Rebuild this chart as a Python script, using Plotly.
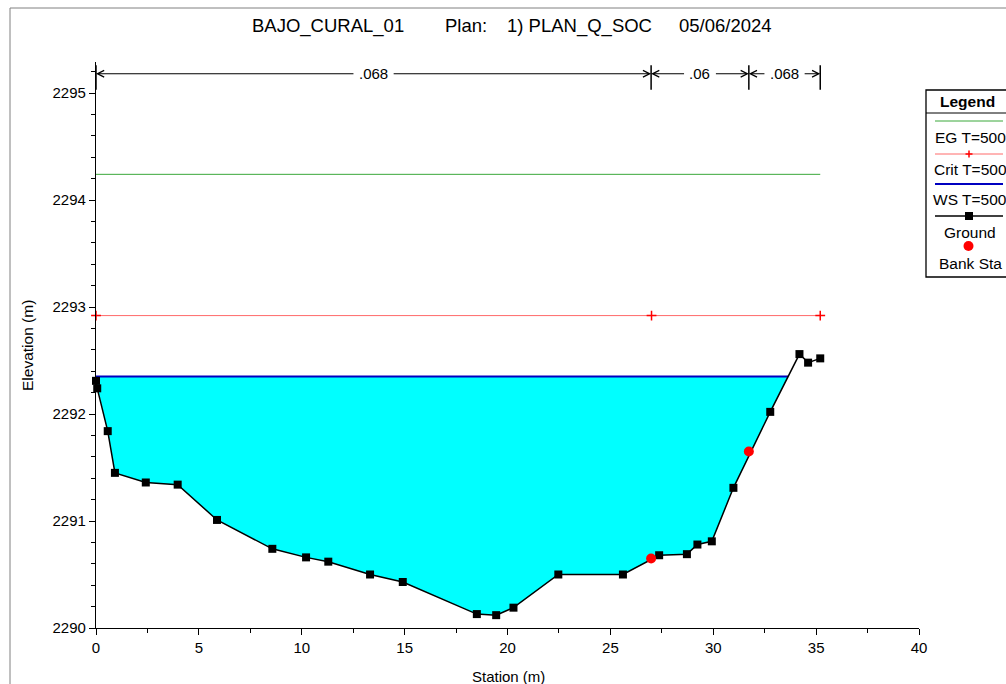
import plotly.graph_objects as go
import numpy as np

# ---------------- data ----------------
station = [0.0, 0.06, 0.57, 0.92, 2.42, 3.97, 5.88, 8.57, 10.21, 11.29, 13.32, 14.91,
           18.51, 19.45, 20.29, 22.47, 25.61, 27.37, 28.72, 29.23, 29.93, 30.98,
           32.77, 34.19, 34.61, 35.20]
elevation = [2292.31, 2292.24, 2291.84, 2291.45, 2291.36, 2291.34, 2291.01, 2290.74,
             2290.66, 2290.62, 2290.50, 2290.43, 2290.13, 2290.12, 2290.19, 2290.50,
             2290.50, 2290.68, 2290.69, 2290.78, 2290.81, 2291.31, 2292.02, 2292.56,
             2292.48, 2292.52]
bank_sta = [26.98, 31.73]
bank_elev = [2290.65, 2291.65]
ws_elev = 2292.35
eg_elev = 2294.24
crit_elev = 2292.92
crit_sta = [0.0, 27.0, 35.2]
n_breaks = [0.0, 26.98, 31.73, 35.2]
n_values = [".068", ".06", ".068"]
n_level = 2295.18
title_parts = ["BAJO_CURAL_01", "Plan:", "1) PLAN_Q_SOC", "05/06/2024"]
x_ticks = [0, 5, 10, 15, 20, 25, 30, 35, 40]
y_ticks = [2290, 2291, 2292, 2293, 2294, 2295]

FONT = "Liberation Sans, Arial, sans-serif"

# pixel -> paper helpers (plot area: x 96..919, y 62..628)
L, R, T, B = 96, 919, 62, 628
def PX(p):
    return (p - L) / (R - L)
def PY(p):
    return (B - p) / (B - T)

# water-surface intersection with right bank
xs = np.array(station)
ys = np.array(elevation)
k = int(np.argmax((xs > 30) & (ys > ws_elev)))
x_int = xs[k - 1] + (ws_elev - ys[k - 1]) * (xs[k] - xs[k - 1]) / (ys[k] - ys[k - 1])

poly_x = [0.0, x_int] + list(xs[:k][::-1]) + [0.0]
poly_y = [ws_elev, ws_elev] + list(ys[:k][::-1]) + [ws_elev]

fig = go.Figure()
fig.add_trace(go.Scatter(x=poly_x, y=poly_y, mode="lines", fill="toself",
                         fillcolor="#00ffff", line=dict(width=0), hoverinfo="skip",
                         showlegend=False))
fig.add_trace(go.Scatter(x=[station[0], station[-1]], y=[eg_elev, eg_elev], mode="lines",
                         line=dict(color="#3aa83a", width=1), showlegend=False))
fig.add_trace(go.Scatter(x=crit_sta, y=[crit_elev] * len(crit_sta), mode="lines+markers",
                         line=dict(color="#ff6a6a", width=1),
                         marker=dict(symbol="cross-thin", size=7,
                                     line=dict(color="#ff0000", width=1.5)),
                         cliponaxis=False, showlegend=False))
fig.add_trace(go.Scatter(x=[0.0, x_int], y=[ws_elev, ws_elev], mode="lines",
                         line=dict(color="#0000c0", width=2), showlegend=False))
fig.add_trace(go.Scatter(x=station, y=elevation, mode="lines+markers",
                         line=dict(color="black", width=1.5),
                         marker=dict(symbol="square", size=8, color="black"),
                         cliponaxis=False, showlegend=False))
fig.add_trace(go.Scatter(x=bank_sta, y=bank_elev, mode="markers",
                         marker=dict(symbol="circle", size=10, color="#ff0000"),
                         cliponaxis=False, showlegend=False))

shapes = []
annotations = []

def text_ann(x, y, txt, size=15, xanchor="center", **kw):
    d = dict(x=x, y=y, xref="paper", yref="paper", text=txt, showarrow=False,
             xanchor=xanchor, yanchor="middle",
             font=dict(family=FONT, size=size, color="black"))
    d.update(kw)
    annotations.append(d)

# Manning's n bars
for xb in n_breaks:
    shapes.append(dict(type="line", xref="x", yref="y", x0=xb, x1=xb,
                       y0=2295.03, y1=2295.26, line=dict(color="black", width=1.5)))
for i, lab in enumerate(n_values):
    a, b = n_breaks[i], n_breaks[i + 1]
    m = (a + b) / 2
    half_px = 0.5 * 15 * (0.278 + 0.556 * (len(lab) - 1)) + 4
    gap = half_px / ((R - L) / 40)
    annotations.append(dict(x=m, y=n_level, xref="x", yref="y", text=lab, showarrow=False,
                            xanchor="center", yanchor="middle",
                            font=dict(family=FONT, size=15, color="black")))
    for tgt, tail in ((a, m - gap), (b, m + gap)):
        annotations.append(dict(x=tgt, y=n_level, ax=tail, ay=n_level, xref="x", yref="y",
                                axref="x", ayref="y", text="", showarrow=True,
                                arrowhead=5, arrowsize=1.1, arrowwidth=1.2,
                                arrowcolor="black", standoff=0, startstandoff=0))

# title
for txt, px0 in zip(title_parts, [250, 443, 505, 677]):
    text_ann(PX(px0), PY(26), txt, size=18.5, xanchor="left")

# axis titles
text_ann(PX(27), PY(346), "Elevation (m)", size=15.5, textangle=-90)
text_ann(PX(508), PY(676), "Station (m)", size=15)

# outer frame
shapes.append(dict(type="line", xref="paper", yref="paper", x0=PX(10), x1=PX(10),
                   y0=PY(8), y1=PY(700), line=dict(color="#808080", width=1)))
shapes.append(dict(type="line", xref="paper", yref="paper", x0=PX(10), x1=PX(1020),
                   y0=PY(8), y1=PY(8), line=dict(color="#808080", width=1)))

# legend box
shapes.append(dict(type="rect", xref="paper", yref="paper", x0=PX(926), x1=PX(1030),
                   y0=PY(277), y1=PY(90), line=dict(color="black", width=1.3),
                   fillcolor="white", layer="above"))
shapes.append(dict(type="line", xref="paper", yref="paper", x0=PX(926), x1=PX(1030),
                   y0=PY(113), y1=PY(113), line=dict(color="black", width=1)))
text_ann(PX(968), PY(101.5), "<b>Legend</b>", size=15.5)
leg = [("EG T=500", "#3aa83a", 1, 121, 138),
       ("Crit T=500", "#ff6a6a", 1, 154, 169),
       ("WS T=500", "#0000c0", 2, 184, 200),
       ("Ground", "black", 1.5, 216, 232)]
for txt, col, w, yl, yt in leg:
    shapes.append(dict(type="line", xref="paper", yref="paper", x0=PX(935), x1=PX(1003),
                       y0=PY(yl), y1=PY(yl), line=dict(color=col, width=w)))
    text_ann(PX(970), PY(yt), txt, size=15.5)
# crit plus
shapes.append(dict(type="line", xref="paper", yref="paper", x0=PX(969), x1=PX(969),
                   y0=PY(150.5), y1=PY(157.5), line=dict(color="#ff0000", width=1.5)))
shapes.append(dict(type="line", xref="paper", yref="paper", x0=PX(965.5), x1=PX(972.5),
                   y0=PY(154), y1=PY(154), line=dict(color="#ff0000", width=1.5)))
# ground square
shapes.append(dict(type="rect", xref="paper", yref="paper", x0=PX(965), x1=PX(973),
                   y0=PY(220), y1=PY(212), line=dict(width=0), fillcolor="black"))
# bank circle
shapes.append(dict(type="circle", xref="paper", yref="paper", x0=PX(963.5), x1=PX(973.5),
                   y0=PY(251), y1=PY(241), line=dict(width=0), fillcolor="#ff0000"))
text_ann(PX(970), PY(263), "Bank Sta", size=15.5)

fig.update_layout(
    width=1006, height=684,
    margin=dict(l=L, r=1006 - R, t=T, b=684 - B, pad=0),
    paper_bgcolor="white", plot_bgcolor="white",
    showlegend=False,
    font=dict(family=FONT, size=15, color="black"),
    shapes=shapes, annotations=annotations,
    xaxis=dict(range=[0, 40], tickvals=x_ticks, showgrid=False, zeroline=False,
               showline=True, linecolor="black", linewidth=1.2,
               ticks="outside", ticklen=6, tickcolor="black", tickwidth=1.2,
               minor=dict(dtick=2.5, tick0=0, ticks="outside", ticklen=4,
                          tickcolor="black", tickwidth=1),
               tickfont=dict(family=FONT, size=15)),
    yaxis=dict(range=[2290, 2295.29], tickvals=y_ticks, showgrid=False, zeroline=False,
               showline=True, linecolor="black", linewidth=1.2,
               ticks="outside", ticklen=6, tickcolor="black", tickwidth=1.2,
               minor=dict(dtick=0.2, tick0=2290, ticks="outside", ticklen=4,
                          tickcolor="black", tickwidth=1),
               tickfont=dict(family=FONT, size=15), tickformat="d"),
)

fig.write_html("out.html", config={"displayModeBar": False},
               post_script="document.body.style.margin='0px';document.body.style.overflow='hidden';")
